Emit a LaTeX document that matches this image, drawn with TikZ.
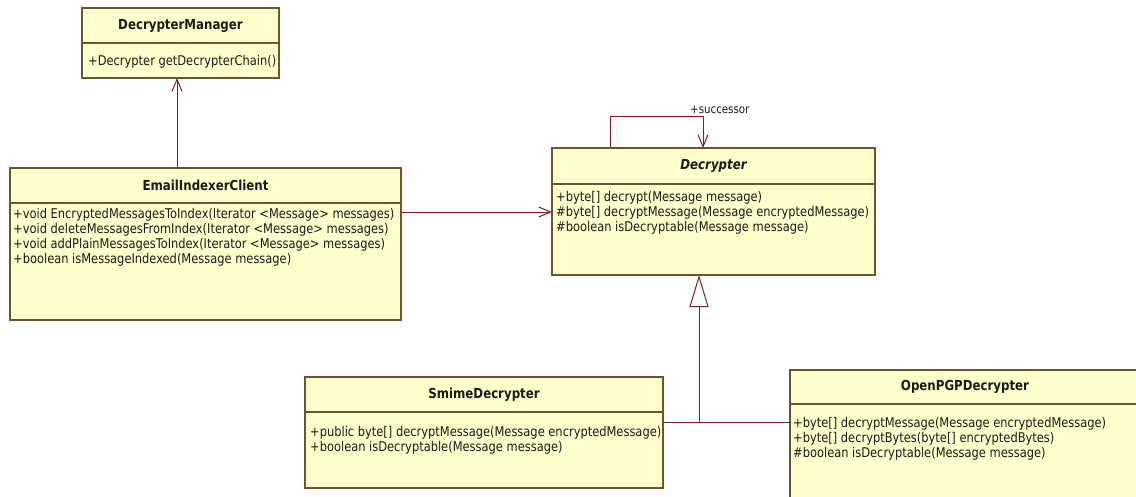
\documentclass[tikz,border=0pt]{standalone}
\usepackage{fontspec}
\setmainfont{DejaVu Sans Condensed}[FakeStretch=0.95]
\usetikzlibrary{arrows.meta}
\definecolor{boxfill}{HTML}{FFFFCC}
\definecolor{boxline}{HTML}{6E5232}
\definecolor{wire}{HTML}{7F2020}
\definecolor{ink}{HTML}{1A1A1A}
\tikzset{
  box/.style={draw=boxline, fill=boxfill, line width=1.2pt, anchor=north west,
    inner sep=0pt, outer sep=0pt},
  hdr/.style={font=\bfseries\fontsize{13.8}{15}\selectfont, text=ink},
  ops/.style={anchor=north west, align=left, inner sep=0pt, text=ink,
    font=\fontsize{13.4}{15}\selectfont},
  wirel/.style={draw=wire, line width=1pt},
  assoc/.style={wirel, -{Straight Barb[length=12pt, width=10pt, line width=1pt]}},
  inherit/.style={wirel, -{Triangle[open, length=32pt, width=19pt, fill=white, line width=1pt]}},
}
\begin{document}
\begin{tikzpicture}[x=1pt, y=-1pt]
\useasboundingbox (0,0) rectangle (1136,496);
\fill[white] (0,0) rectangle (1136,496);

% DecrypterManager
\node[box, hdr, minimum width=197pt, minimum height=35pt] (dmh) at (82,8) {DecrypterManager};
\node[box, minimum width=197pt, minimum height=35pt] (dmb) at (82,43) {};
\node[ops] (dmo) at (88,55) {+Decrypter getDecrypterChain()};

% EmailIndexerClient
\node[box, hdr, minimum width=391pt, minimum height=35pt] (eich) at (10,168) {EmailIndexerClient};
\node[box, minimum width=391pt, minimum height=117pt] (eicb) at (10,203) {};
\node[ops] (eico) at (13,208.5) {+void EncryptedMessagesToIndex(Iterator <Message> messages)\\
+void deleteMessagesFromIndex(Iterator <Message> messages)\\
+void addPlainMessagesToIndex(Iterator <Message> messages)\\
+boolean isMessageIndexed(Message message)};

% Decrypter (abstract)
\node[box, hdr, font=\bfseries\itshape\fontsize{13.8}{15}\selectfont, minimum width=323pt, minimum height=36pt] (dech) at (552,148) {\raisebox{-2pt}{Decrypter}};
\node[box, minimum width=323pt, minimum height=91pt] (decb) at (552,184) {};
\node[ops] (deco) at (556,191) {+byte[] decrypt(Message message)\\
\#byte[] decryptMessage(Message encryptedMessage)\\
\#boolean isDecryptable(Message message)};

% SmimeDecrypter
\node[box, hdr, minimum width=358pt, minimum height=35pt] (smh) at (305,377) {SmimeDecrypter};
\node[box, minimum width=358pt, minimum height=76pt] (smb) at (305,412) {};
\node[ops] (smo) at (310,426.5) {+public byte[] decryptMessage(Message encryptedMessage)\\
+boolean isDecryptable(Message message)};

% OpenPGPDecrypter (runs past the right and bottom edges)
\begin{scope}
\clip (0,0) rectangle (1136,496);
\node[box, hdr, minimum width=360pt, minimum height=34pt] (oph) at (790,370) {\hspace*{-10pt}\raisebox{-1pt}{OpenPGPDecrypter}};
\node[box, minimum width=360pt, minimum height=110pt] (opb) at (790,404) {};
\end{scope}
\node[ops] (opo) at (793,417) {+byte[] decryptMessage(Message encryptedMessage)\\
+byte[] decryptBytes(byte[] encryptedBytes)\\
\#boolean isDecryptable(Message message)};

% connectors
\coordinate (c1) at (177,0);
\draw[assoc] (eich.north -| c1) -- (dmb.south -| c1);

\coordinate (c2) at (0,212);
\draw[assoc] (eicb.east |- c2) -- (decb.west |- c2);

\coordinate (s1) at (610,116);
\coordinate (s2) at (703,116);
\draw[assoc] (dech.north -| s1) -- (s1) -- (s2) -- (dech.north -| s2);
\node[anchor=west, inner sep=0pt, text=ink, font=\fontsize{12}{13}\selectfont] (succ) at (690,110) {+successor};

\coordinate (g) at (699,422);
\draw[wirel] (smb.east |- g) -- (g);
\draw[wirel] (opb.west |- g) -- (g);
\draw[inherit] (g) -- (decb.south -| g);
\end{tikzpicture}
\end{document}
